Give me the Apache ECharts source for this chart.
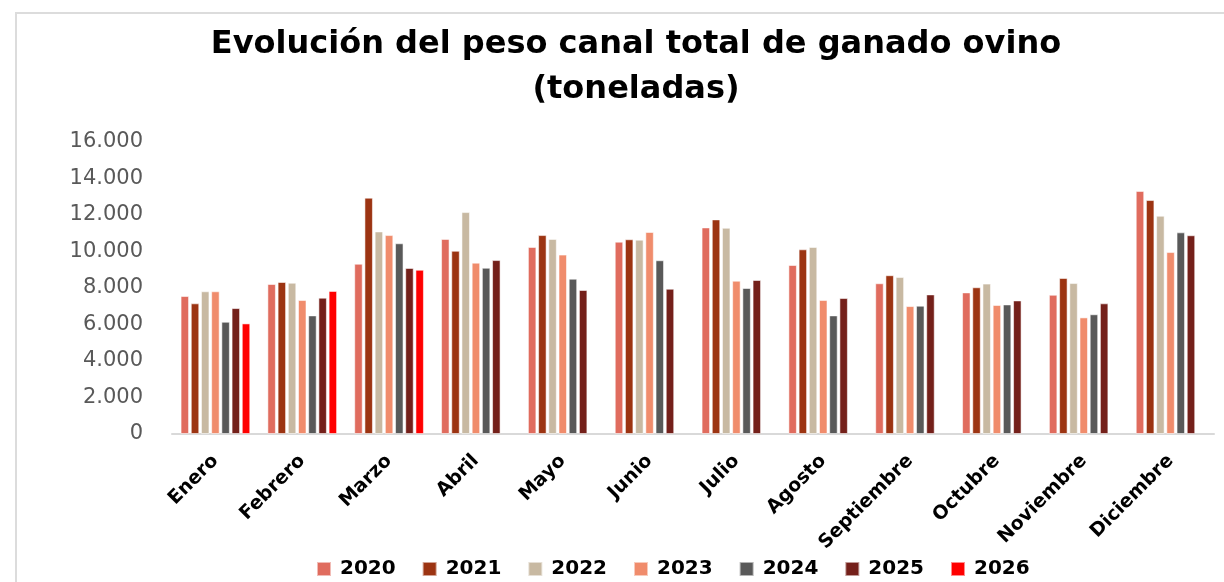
<!DOCTYPE html>
<html>
<head>
<meta charset="utf-8">
<script src="https://cdn.jsdelivr.net/npm/echarts@6/dist/echarts.min.js"></script>
<style>
  html, body { margin: 0; padding: 0; background: #fff; }
  #container { width: 1224px; height: 582px; }
</style>
</head>
<body>
<div id="container"></div>
<script>
var dom = document.getElementById('container');
var myChart = echarts.init(dom);

// meses
var meses = ['Enero', 'Febrero', 'Marzo', 'Abril', 'Mayo', 'Junio', 'Julio',
  'Agosto', 'Septiembre', 'Octubre', 'Noviembre', 'Diciembre'];

// toneladas por año
var v2020 = [7560, 8220, 9330, 10690, 10250, 10540, 11320, 9260, 8260, 7760, 7630, 13320];
var v2021 = [7160, 8330, 12950, 10040, 10900, 10670, 11760, 10120, 8700, 8040, 8550, 12820];
var v2022 = [7820, 8290, 11100, 12160, 10690, 10650, 11300, 10250, 8600, 8240, 8270, 11960];
var v2023 = [7820, 7340, 10900, 9390, 9830, 11070, 8400, 7340, 7010, 7070, 6390, 9970];
var v2024 = [6150, 6500, 10450, 9110, 8510, 9520, 8000, 6500, 7030, 7100, 6560, 11050];
var v2025 = [6900, 7470, 9100, 9530, 7890, 7960, 8440, 7450, 7650, 7320, 7160, 10890];
var v2026 = [6060, 7840, 9000, null, null, null, null, null, null, null, null, null];

var anios = ['2020', '2021', '2022', '2023', '2024', '2025', '2026'];
var valores = [v2020, v2021, v2022, v2023, v2024, v2025, v2026];
var colores = ['#e06c5e', '#9c3412', '#c8b9a2', '#f08c6c', '#595959', '#74201a', '#ff0000'];

var fuente = '"DejaVu Sans", sans-serif';

var series = anios.map(function (a, i) {
  return {
    name: a,
    type: 'bar',
    barWidth: 8.5,
    barGap: '20%',
    itemStyle: {
      color: colores[i],
      borderColor: 'rgba(255,255,255,0.55)',
      borderWidth: 1
    },
    data: valores[i]
  };
});

option = {
  backgroundColor: '#ffffff',
  animation: false,
  title: {
    text: 'Evolución del peso canal total de ganado ovino\n(toneladas)',
    left: 631,
    top: 17,
    textAlign: 'center',
    textStyle: {
      fontFamily: fuente,
      fontWeight: 'bold',
      fontSize: 32,
      lineHeight: 45,
      color: '#000'
    }
  },
  graphic: [{
    type: 'rect',
    shape: { x: 16, y: 13, width: 1260, height: 640 },
    style: { fill: 'none', stroke: '#dcdcdc', lineWidth: 2 },
    silent: true
  }],
  legend: {
    data: anios,
    left: 316,
    top: 559,
    padding: 0,
    icon: 'rect',
    itemWidth: 14,
    itemHeight: 14,
    itemGap: 26,
    textStyle: {
      fontFamily: fuente,
      fontWeight: 'bold',
      fontSize: 20,
      color: '#000',
      padding: [0, 0, 0, 4]
    }
  },
  grid: {
    left: 172,
    right: 10,
    top: 142,
    bottom: 148
  },
  xAxis: {
    type: 'category',
    data: meses,
    axisLine: { lineStyle: { color: '#d9d9d9', width: 2 } },
    axisTick: { show: false },
    axisLabel: {
      rotate: 45,
      margin: 24,
      interval: 0,
      fontFamily: fuente,
      fontWeight: 'bold',
      fontSize: 19,
      color: '#000'
    }
  },
  yAxis: {
    type: 'value',
    min: 0,
    max: 16000,
    interval: 2000,
    axisLine: { show: false },
    axisTick: { show: false },
    splitLine: { show: false },
    axisLabel: {
      margin: 29,
      fontFamily: fuente,
      fontSize: 21,
      color: '#595959',
      formatter: function (v) {
        return v === 0 ? '0' : (v / 1000).toFixed(3);
      }
    }
  },
  series: series
};

myChart.setOption(option);

window.addEventListener('resize', function () {
  myChart.resize();
});
</script>
</body>
</html>
